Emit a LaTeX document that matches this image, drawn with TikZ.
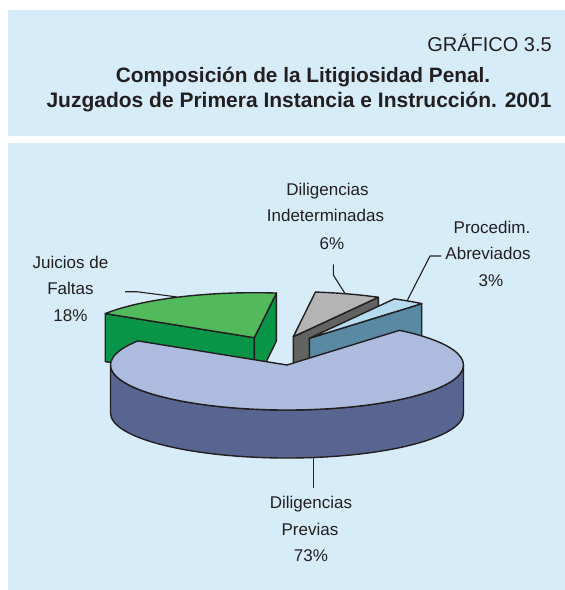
\documentclass[tikz,border=0pt]{standalone}
\usepackage{fontspec}
\setmainfont{Liberation Sans}
\usetikzlibrary{calc}
\definecolor{bg}{RGB}{214,236,249}
\definecolor{ink}{RGB}{35,31,32}
\definecolor{btop}{RGB}{173,187,223}
\definecolor{bside}{RGB}{89,101,145}
\definecolor{gtop}{RGB}{82,186,91}
\definecolor{gside}{RGB}{9,149,72}
\definecolor{rtop}{RGB}{180,180,180}
\definecolor{rside}{RGB}{97,100,96}
\definecolor{ltop}{RGB}{180,220,238}
\definecolor{lside}{RGB}{89,137,163}
\begin{document}
\begin{tikzpicture}[x=1pt,y=-1pt,line join=round,
  edge/.style={draw=ink,line width=1.4pt},
  leader/.style={draw=ink,line width=1.1pt},
  lbl/.style={text=ink,font=\fontsize{17}{20}\selectfont,anchor=base,inner sep=0pt},
  ttl/.style={text=ink,font=\fontsize{21}{24}\selectfont\bfseries,anchor=base,inner sep=0pt},
  ell/.style={x radius=176.5,y radius=45}]
\useasboundingbox (0,0) rectangle (565,590);
\fill[white] (0,0) rectangle (565,590);
\fill[bg] (8,10) rectangle (565,136);
\fill[bg] (8,143) rectangle (565,590);

% titles
\node[text=ink,font=\fontsize{20}{22}\selectfont,anchor=base east,inner sep=0pt] (num) at (552,51) {GRÁFICO 3.5};
\node[ttl,font=\fontsize{20.8}{24}\selectfont\bfseries] (t1) at (303,82) {Composición de la Litigiosidad Penal.};
\node[ttl] (t2) at (299,107) {Juzgados de Primera Instancia e Instrucción. 2001};

% green slice: Juicios de Faltas
\coordinate (g0) at (254.3,337.7);
\coordinate (g1) at ({254.3+176.5*cos(82.8)},{337.7-45*sin(82.8)});
\coordinate (g2) at ({254.3+176.5*cos(147.6)},{337.7-45*sin(147.6)});
\filldraw[edge,fill=gside] (g0) -- (g2) -- ($(g2)+(0,48)$) -- ($(g0)+(0,48)$) -- cycle;
\filldraw[edge,fill=gside] (g0) -- (g1) -- ($(g1)+(0,48)$) -- ($(g0)+(0,48)$) -- cycle;
\filldraw[edge,fill=gtop] (g0) -- (g1) arc[start angle=-82.8,end angle=-147.6,ell] -- cycle;

% grey slice: Diligencias Indeterminadas
\coordinate (r0) at (293.3,336.7);
\coordinate (r1) at ({293.3+176.5*cos(61.2)},{336.7-45*sin(61.2)});
\filldraw[edge,fill=rside] (r0) -- (r1) -- ($(r1)+(0,48)$) -- ($(r0)+(0,48)$) -- cycle;
\filldraw[edge,fill=rtop] (r0) -- (r1) arc[start angle=-61.2,end angle=-82.8,ell] -- cycle;

% light blue slice: Procedim. Abreviados
\coordinate (l0) at (309.3,338.3);
\coordinate (l1) at ({309.3+176.5*cos(50.4)},{338.3-45*sin(50.4)});
\filldraw[edge,fill=lside] (l0) -- (l1) -- ($(l1)+(0,48)$) -- ($(l0)+(0,48)$) -- cycle;
\filldraw[edge,fill=ltop] (l0) -- (l1) arc[start angle=-50.4,end angle=-61.2,ell] -- cycle;

% big slice: Diligencias Previas
\coordinate (b0) at (287,365);
\coordinate (bL) at (110.5,365);
\coordinate (bA) at ({287+176.5*cos(147.6)},{365-45*sin(147.6)});
\filldraw[edge,fill=bside] (bL) arc[start angle=-180,end angle=-360,ell] -- ++(0,48) arc[start angle=-360,end angle=-180,ell] -- cycle;
\filldraw[edge,fill=btop] (b0) -- (bA) arc[start angle=-147.6,end angle=-410.4,ell] -- cycle;

% leaders
\coordinate (jl0) at (125,291.7);
\coordinate (jl1) at (136.7,291.7);
\coordinate (jl2) at (176.7,296.9);
\draw[leader] (jl0) -- (jl1) -- (jl2);
\coordinate (il0) at (333.3,264.3);
\coordinate (il1) at (333.3,275);
\coordinate (il2) at (345,293.5);
\draw[leader] (il0) -- (il1) -- (il2);
\coordinate (al0) at (441,256);
\coordinate (al1) at (430,256);
\coordinate (al2) at (407,301);
\draw[leader] (al0) -- (al1) -- (al2);
\coordinate (pl0) at (313.3,458);
\coordinate (pl1) at (313.3,488.3);
\draw[leader] (pl0) -- (pl1);

% labels
\node[lbl] (j1) at (70.5,268) {Juicios de};
\node[lbl] (j2) at (70.5,294.5) {Faltas};
\node[lbl] (j3) at (70.5,321) {18\%};
\node[lbl] (i1) at (327.5,195) {Diligencias};
\node[lbl] (i2) at (325.5,221) {Indeterminadas};
\node[lbl] (i3) at (332,249) {6\%};
\node[lbl] (a1) at (492,233) {Procedim.};
\node[lbl] (a2) at (488,259) {Abreviados};
\node[lbl] (a3) at (491,286) {3\%};
\node[lbl] (p1) at (311,508.3) {Diligencias};
\node[lbl] (p2) at (310,535) {Previas};
\node[lbl] (p3) at (311,561.7) {73\%};
\end{tikzpicture}
\end{document}
